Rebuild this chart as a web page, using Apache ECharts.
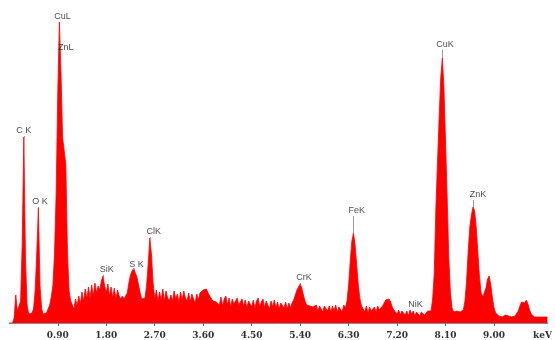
<!DOCTYPE html>
<html>
<head>
<meta charset="utf-8">
<title>EDS spectrum</title>
<script src="https://cdn.jsdelivr.net/npm/echarts@6/dist/echarts.min.js"></script>
<style type="text/css">
	html, body { margin: 0; padding: 0; background: #fff; }
	#main { width: 555px; height: 340px; }
</style>
</head>
<body>
<div id="main"></div>
<script type="text/javascript">
	// energy channels: 0.00 .. 9.99 keV, 0.03 keV apart
	var energyStep = 0.03;
	// counts per channel, 10 channels per row
	var counts = [
		0, 0, 0, 5, 28, 12, 10, 22, 80, 186,
		65, 18, 9, 8, 10, 14, 32, 70, 115, 38,
		14, 9, 8, 10, 14, 18, 26, 38, 70, 130,
		230, 301, 250, 185, 172, 158, 70, 32, 22, 18,
		14, 24, 17, 27, 19, 31, 22, 34, 24, 36,
		25, 38, 27, 40, 30, 37, 33, 42, 47, 37,
		30, 39, 27, 36, 25, 35, 24, 33, 27, 24,
		27, 24, 22, 30, 40, 48, 52, 55, 50, 46,
		38, 30, 24, 22, 25, 38, 60, 85, 68, 40,
		24, 33, 22, 31, 23, 34, 22, 32, 25, 22,
		28, 22, 32, 24, 29, 21, 31, 23, 32, 25,
		22, 30, 21, 29, 24, 20, 29, 23, 30, 28,
		33, 31, 34, 30, 27, 25, 22, 24, 21, 23,
		18, 26, 17, 24, 27, 18, 25, 16, 24, 19,
		17, 25, 18, 16, 24, 17, 23, 15, 22, 24,
		16, 23, 15, 22, 25, 16, 21, 24, 15, 22,
		21, 14, 22, 16, 23, 15, 21, 14, 20, 22,
		15, 21, 14, 20, 15, 20, 23, 28, 33, 36,
		39, 35, 28, 22, 18, 16, 17, 15, 16, 14,
		18, 12, 17, 19, 11, 17, 18, 12, 17, 11,
		17, 12, 18, 11, 16, 17, 11, 18, 15, 22,
		38, 62, 82, 90, 78, 58, 38, 24, 17, 14,
		11, 17, 10, 16, 12, 10, 16, 11, 17, 13,
		15, 17, 20, 23, 25, 24, 21, 16, 13, 12,
		9, 13, 8, 12, 13, 8, 12, 7, 13, 9,
		12, 7, 11, 12, 7, 11, 12, 8, 7, 12,
		10, 12, 24, 50, 115, 160, 205, 245, 265, 235,
		180, 125, 65, 30, 15, 11, 10, 12, 10, 11,
		10, 13, 22, 42, 72, 96, 108, 116, 112, 95,
		70, 46, 30, 26, 28, 35, 44, 47, 38, 25,
		15, 10, 8, 7, 8, 6, 7, 8, 6, 7,
		7, 6, 8, 7, 9, 12, 17, 21, 23, 20,
		23, 19, 13, 9, 7, 6, 7, 6, 7, 6,
		7, 6, 7, 6
	];

	// tick marks and labels on the energy axis
	var tickValues = [0.9, 1.8, 2.7, 3.6, 4.5, 5.4, 6.3, 7.2, 8.1, 9.0];
	var labelValues = [0.9, 1.8, 2.7, 3.6, 4.5, 5.4, 6.3, 7.2, 8.1, 9.0, 9.9];
	var tickLabels = ['0.90', '1.80', '2.70', '3.60', '4.50', '5.40', '6.30', '7.20', '8.10', '9.00', 'keV'];

	// peak annotations: name, line energy, peak top, label height
	var peakNames   = ['C K', 'O K', 'CuL', 'ZnL', 'SiK', 'S K', 'ClK', 'CrK', 'FeK', 'NiK', 'CuK', 'ZnK'];
	var peakEnergy  = [0.27, 0.54, 0.93, 1.00, 1.74, 2.31, 2.61, 5.40, 6.39, 7.47, 8.04, 8.61];
	var peakTop     = [186, 115, 301, 180, 47, 55, 85, 39, 90, 12, 265, 116];
	var labelEnergy = [0.27, 0.57, 0.99, 1.05, 1.81, 2.36, 2.68, 5.47, 6.45, 7.54, 8.09, 8.70];
	var labelHeight = [192, 121, 306, 275, 53, 58, 91, 45, 112, 18, 278, 128];

	var myChart = echarts.init(document.getElementById('main'));

	var spectrum = [];
	for (var i = 0; i < counts.length; i++) {
		spectrum.push([+(i * energyStep).toFixed(2), counts[i]]);
	}

	var labelPoints = [];
	var markLines = [];
	for (var j = 0; j < peakNames.length; j++) {
		labelPoints.push({ name: peakNames[j], value: [labelEnergy[j], labelHeight[j]] });
		if (j == 3 || j == 9) continue; // ZnL / NiK have no pointer line
		markLines.push([
			{ coord: [peakEnergy[j], peakTop[j]] },
			{ coord: [peakEnergy[j], labelHeight[j] - 5] }
		]);
	}

	var option = {
		animation: false,
		grid: { left: 9.3, right: 5, top: 13, bottom: 17 },
		xAxis: {
			type: 'value',
			min: 0,
			max: 10,
			offset: 3,
			splitLine: { show: false },
			axisLine: { lineStyle: { color: '#8a8a8a', width: 1 } },
			axisTick: {
				customValues: tickValues,
				length: 3,
				lineStyle: { color: '#666' }
			},
			axisLabel: {
				customValues: labelValues,
				margin: 5,
				fontFamily: 'DejaVu Serif',
				fontWeight: 'bold',
				fontSize: 9,
				color: '#333',
				formatter: function (v) {
					for (var k = 0; k < labelValues.length; k++) {
						if (Math.abs(labelValues[k] - v) < 1e-6) return tickLabels[k];
					}
					return '';
				}
			}
		},
		yAxis: {
			type: 'value',
			min: 0,
			max: 310,
			show: false
		},
		series: [{
			name: 'spectrum',
			type: 'line',
			data: spectrum,
			symbol: 'none',
			sampling: 'none',
			lineStyle: { color: '#ff0000', width: 0.8 },
			areaStyle: { color: '#ff0000', opacity: 1 },
			z: 2
		}, {
			name: 'peaks',
			type: 'scatter',
			data: labelPoints,
			symbolSize: 1,
			itemStyle: { color: 'rgba(0,0,0,0)' },
			label: {
				show: true,
				position: 'inside',
				formatter: '{b}',
				fontFamily: 'Liberation Sans',
				fontSize: 9,
				color: '#222'
			},
			markLine: {
				silent: true,
				symbol: 'none',
				label: { show: false },
				lineStyle: { color: '#999', width: 1, type: 'solid' },
				data: markLines
			},
			z: 3
		}]
	};

	/** draw */
	myChart.setOption(option);
</script>
</body>
</html>
